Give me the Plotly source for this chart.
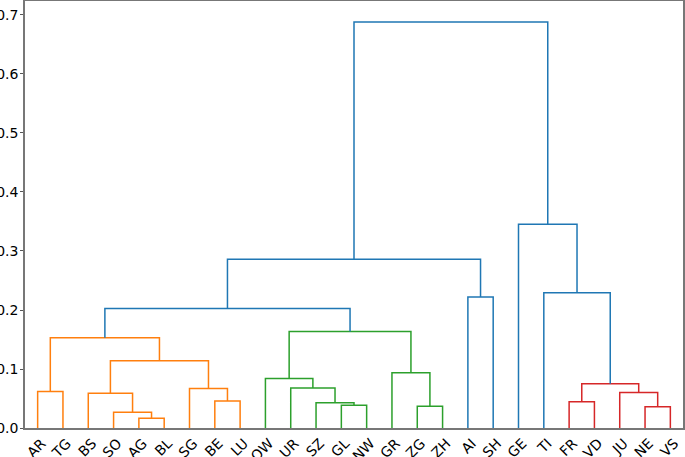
import plotly.graph_objects as go

# Hojas en el orden del dendrograma
leaves = ["AR", "TG", "BS", "SO", "AG", "BL", "SG", "BE", "LU", "OW", "UR", "SZ", "GL",
          "NW", "GR", "ZG", "ZH", "AI", "SH", "GE", "TI", "FR", "VD", "JU", "NE", "VS"]

# Fusiones: hijo izquierdo, hijo derecho (índices de hoja o de cluster 26+), altura, color
merge_left = [4, 3, 2, 7, 6, 28, 0, 32, 12, 11, 10, 9, 15, 14, 37, 33, 17, 41,
              24, 23, 21, 46, 20, 19, 43]
merge_right = [5, 26, 27, 8, 29, 30, 1, 31, 13, 34, 35, 36, 16, 38, 39, 40, 18, 42,
               25, 44, 22, 45, 47, 48, 49]
merge_height = [0.0164, 0.0265, 0.0587, 0.0457, 0.067, 0.114, 0.062, 0.153,
                0.0384, 0.0428, 0.0676, 0.084, 0.0367, 0.0935, 0.1635,
                0.2024, 0.222, 0.2858,
                0.036, 0.0603, 0.0445, 0.0749, 0.2294, 0.3455, 0.688]
merge_color = ["C1"] * 8 + ["C2"] * 7 + ["C0"] * 3 + ["C3"] * 4 + ["C0"] * 3

palette = {"C0": "#1f77b4", "C1": "#ff7f0e", "C2": "#2ca02c", "C3": "#d62728"}

n = len(leaves)
xpos = [5 + 10 * i for i in range(n)]
ypos = [0.0] * n

fig = go.Figure()
for l, r, h, c in zip(merge_left, merge_right, merge_height, merge_color):
    xl, yl = xpos[l], ypos[l]
    xr, yr = xpos[r], ypos[r]
    fig.add_trace(go.Scatter(
        x=[xl, xl, xr, xr], y=[yl, h, h, yr],
        mode="lines", line=dict(color=palette[c], width=1.5),
        hoverinfo="none"
    ))
    xpos.append((xl + xr) / 2)
    ypos.append(h)

fig.update_layout(
    width=685, height=457,
    margin=dict(l=25, r=2, t=1, b=29),
    plot_bgcolor="white", paper_bgcolor="white",
    showlegend=False,
    font=dict(family="DejaVu Sans", size=14, color="black"),
    xaxis=dict(
        range=[0, 10 * n], tickmode="array", tickvals=xpos[:n], ticktext=leaves,
        tickangle=-45, ticks="", ticklabelshift=4,
        showgrid=False, zeroline=False, automargin=False,
        showline=True, linecolor="#777", linewidth=1.5, mirror=True
    ),
    yaxis=dict(
        range=[0, 0.7237], tickvals=[0, 0.1, 0.2, 0.3, 0.4, 0.5, 0.6, 0.7],
        tickformat=".1f", ticks="outside", ticklen=3, tickcolor="#555",
        ticklabelstandoff=-1,
        showgrid=False, zeroline=False, automargin=False,
        showline=True, linecolor="#777", linewidth=1.5, mirror=True
    ),
)

# quitar el margen por defecto del <body>
fig.write_html("out.html", config={"displayModeBar": False},
               post_script="document.body.style.margin='0';")
